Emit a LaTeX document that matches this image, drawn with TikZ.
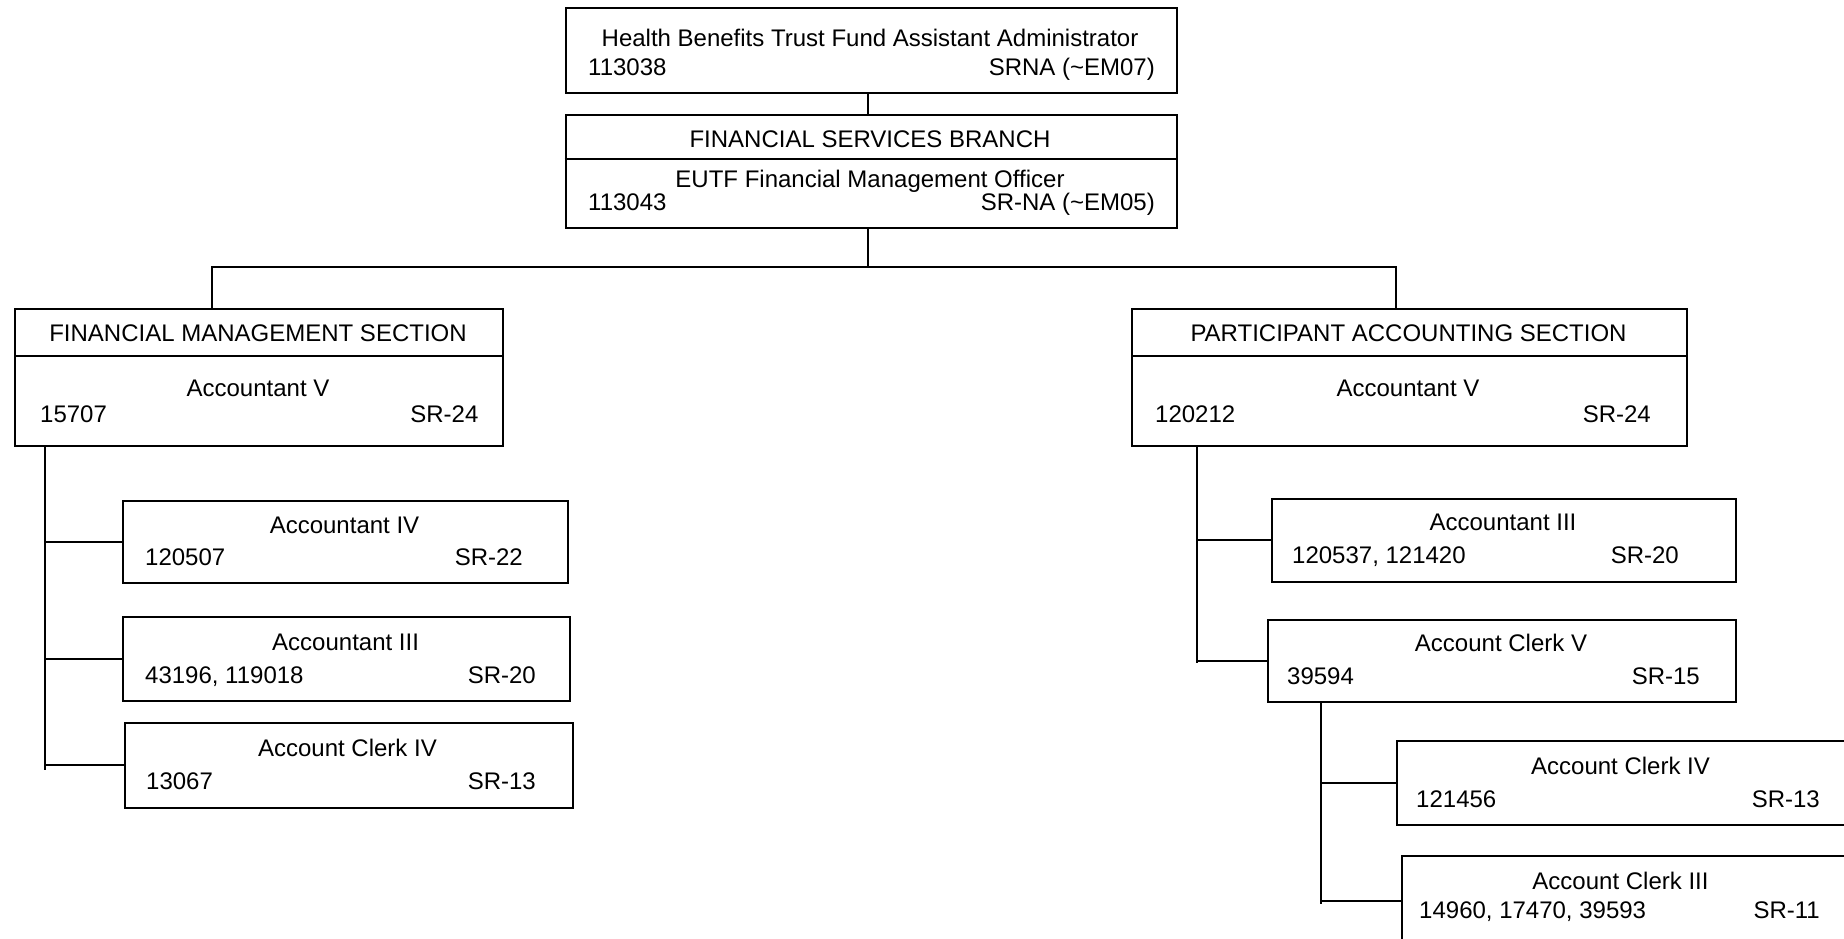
\documentclass[tikz,border=0pt]{standalone}
\usepackage{fontspec}
\setmainfont{Liberation Sans}
\newcommand\orgbox[5]{\node[box, minimum width={(#4)-(#2)}, minimum height={(#5)-(#3)}] (#1) at (#2,#3) {};}
\begin{document}
\begin{tikzpicture}[x=1pt,y=-1pt,
  box/.style={draw, line width=2pt, rectangle, inner sep=0pt, anchor=north west},
  txt/.style={inner sep=0pt, font=\fontsize{24}{28}\selectfont},
  lt/.style={txt, anchor=base west},
  rt/.style={txt, anchor=base east},
  ct/.style={txt, anchor=base},
  link/.style={line width=2pt},
  divider/.style={line width=2pt}]
\fill[white] (0,0) rectangle (1844,939);
\useasboundingbox (0,0) rectangle (1844,939);
\clip (0,0) rectangle (1844,939);

% top
\orgbox{T}{564.5}{7}{1176}{92}
\node[ct] (T1) at (870,47) {Health Benefits Trust Fund Assistant Administrator};
\node[lt] (T2) at (588,75.5) {113038};
\node[rt] (T3) at (1155,75.5) {SRNA (\textasciitilde EM07)};

% branch
\orgbox{B}{564.5}{114}{1176}{227}
\draw[divider] ([yshift=-44.8pt]B.north west) -- ([yshift=-44.8pt]B.north east);
\node[ct] (B1) at (870,147) {FINANCIAL SERVICES BRANCH};
\node[ct] (B2) at (870,187) {EUTF Financial Management Officer};
\node[lt] (B3) at (588,210.5) {113043};
\node[rt] (B4) at (1155,210.5) {SR-NA (\textasciitilde EM05)};

% sections
\orgbox{FM}{14}{308}{502}{444.5}
\draw[divider] ([yshift=-48pt]FM.north west) -- ([yshift=-48pt]FM.north east);
\node[ct] (FM1) at (258,341.5) {FINANCIAL MANAGEMENT SECTION};
\node[ct] (FM2) at (258,396.5) {Accountant V};
\node[lt] (FM3) at (40,422.5) {15707};
\node[rt] (FM4) at (478.6,422.5) {SR-24};

\orgbox{PA}{1131}{308}{1686}{444.5}
\draw[divider] ([yshift=-48pt]PA.north west) -- ([yshift=-48pt]PA.north east);
\node[ct] (PA1) at (1408.5,341.5) {PARTICIPANT ACCOUNTING SECTION};
\node[ct] (PA2) at (1408,396.5) {Accountant V};
\node[lt] (PA3) at (1155,422.5) {120212};
\node[rt] (PA4) at (1651,422.5) {SR-24};

% left children
\orgbox{L1}{122.3}{499.8}{566.8}{582}
\node[ct] (L1a) at (344.5,533) {Accountant IV};
\node[lt] (L1b) at (145,565.5) {120507};
\node[rt] (L1c) at (523,565.5) {SR-22};

\orgbox{L2}{122.3}{616}{569}{700}
\node[ct] (L2a) at (345.6,650.6) {Accountant III};
\node[lt] (L2b) at (145,683.5) {43196, 119018};
\node[rt] (L2c) at (536,683.5) {SR-20};

\orgbox{L3}{123.5}{722}{571.5}{806.7}
\node[ct] (L3a) at (347.5,756.5) {Account Clerk IV};
\node[lt] (L3b) at (146,789.5) {13067};
\node[rt] (L3c) at (536,789.5) {SR-13};

% right children
\orgbox{R1}{1271}{497.5}{1735}{581}
\node[ct] (R1a) at (1503,530.5) {Accountant III};
\node[lt] (R1b) at (1292,563.5) {120537, 121420};
\node[rt] (R1c) at (1679,563.5) {SR-20};

\orgbox{R2}{1267}{618.6}{1735}{701}
\node[ct] (R2a) at (1501,651.5) {Account Clerk V};
\node[lt] (R2b) at (1287,684.5) {39594};
\node[rt] (R2c) at (1700,684.5) {SR-15};

\orgbox{R3}{1396}{739.7}{1850}{824.4}
\node[ct] (R3a) at (1620.5,774) {Account Clerk IV};
\node[lt] (R3b) at (1416,807) {121456};
\node[rt] (R3c) at (1820,807) {SR-13};

\orgbox{R4}{1400.6}{855}{1850}{945}
\node[ct] (R4a) at (1620.5,889.5) {Account Clerk III};
\node[lt] (R4b) at (1419,918.5) {14960, 17470, 39593};
\node[rt] (R4c) at (1820,918.5) {SR-11};

% connectors
\coordinate (busL) at (211.7,267);
\coordinate (busR) at (1396,267);
\coordinate (lv) at (44.7,0);
\coordinate (rv) at (1197,0);
\coordinate (rv2) at (1320.6,0);
\draw[link] ([xshift=-3.5pt]T.south) -- ([xshift=-3.5pt]B.north);
\draw[link] ([xshift=-3.5pt]B.south) -- ([xshift=-3.5pt]B.south |- busL);
\draw[link] (FM.north -| busL) -- (busL) -- (busR) -- (PA.north -| busR);

\draw[link] (FM.south -| lv) -- ([yshift=-5pt]L3.west -| lv);
\draw[link] (L1.west -| lv) -- (L1.west);
\draw[link] (L2.west -| lv) -- (L2.west);
\draw[link] (L3.west -| lv) -- (L3.west);

\draw[link] (PA.south -| rv) -- ([yshift=-2pt]R2.west -| rv);
\draw[link] (R1.west -| rv) -- (R1.west);
\draw[link] (R2.west -| rv) -- (R2.west);

\draw[link] (R2.south -| rv2) -- ([yshift=-3pt]R4.west -| rv2);
\draw[link] (R3.west -| rv2) -- (R3.west);
\draw[link] (R4.west -| rv2) -- (R4.west);
\end{tikzpicture}
\end{document}
